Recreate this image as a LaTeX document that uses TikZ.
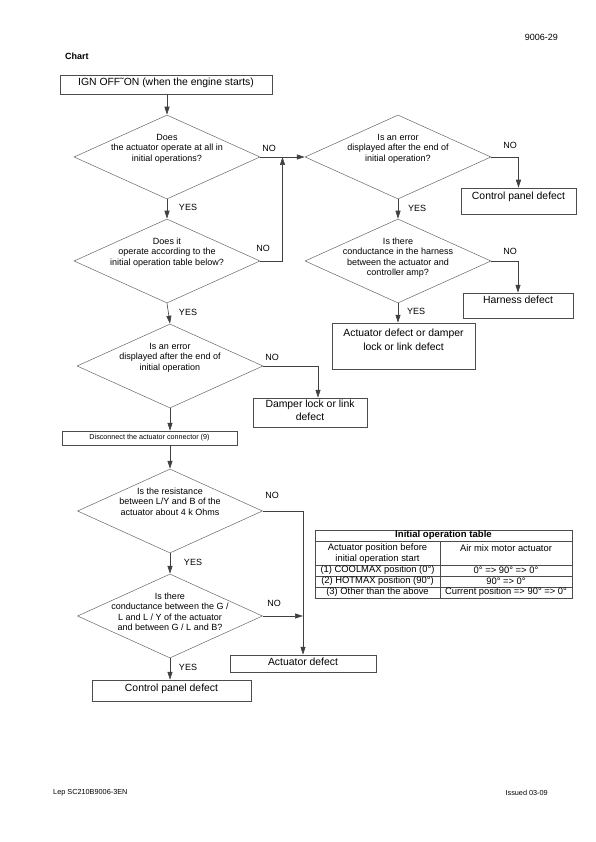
\documentclass[tikz,border=0pt]{standalone}
\usepackage{fontspec}
\setmainfont{Liberation Sans}
\usetikzlibrary{shapes.geometric,arrows.meta,positioning,calc}

\tikzset{
  dec/.style={diamond, draw=black!60, line width=0.5pt, minimum width=186pt, minimum height=84pt, inner sep=0pt},
  qtext/.style={anchor=north, align=center, inner sep=0pt, font=\fontsize{9}{10.5}\selectfont},
  box/.style={draw=black!70, line width=0.5pt, align=center, inner sep=0pt, text height=7.4pt, font=\fontsize{10.4}{13.5}\selectfont},
  lbl/.style={inner sep=0pt, font=\fontsize{9}{11}\selectfont},
  ttext/.style={inner sep=0pt, align=center, font=\fontsize{9.4}{11}\selectfont},
  arr/.style={draw=black!75, line width=0.6pt, -{Triangle[length=8pt,width=5pt]}},
}

\begin{document}
\begin{tikzpicture}[x=1pt, y=-1pt]
    \useasboundingbox (0,0) rectangle (595,842);

    % header and footer
    \node[lbl, anchor=east] (pgno) at (558,37) {9006-29};
    \node[lbl, anchor=west, font=\bfseries\fontsize{9}{11}\selectfont] (chart) at (65,56) {Chart};
    \node[lbl, anchor=west, font=\fontsize{7.3}{9}\selectfont] (docid) at (53,793) {Lep SC210B9006-3EN};
    \node[lbl, anchor=east, font=\fontsize{7.3}{9}\selectfont] (issue) at (548,793) {Issued 03-09};

    % start
    \node[box, minimum width=212pt, minimum height=19pt, text depth=5.1pt] (start) at (166,84.5) {IGN OFF˜ON (when the engine starts)};

    % left column: decisions
    \node[dec] (d1) at (167,157) {};
    \node[qtext] (q1) at ([yshift=-19pt]d1.north) {Does\\the actuator operate at all in\\initial operations?};
    \node[dec] (d2) at (167,261) {};
    \node[qtext] (q2) at ([yshift=-19pt]d2.north) {Does it\\operate according to the\\initial operation table below?};
    \node[dec] (d5) at (170,366) {};
    \node[qtext] (q5) at ([yshift=-19pt]d5.north) {Is an error\\displayed after the end of\\initial operation};

    % right column: decisions
    \node[dec] (d3) at (398,157) {};
    \node[qtext] (q3) at ([yshift=-19pt]d3.north) {Is an error\\displayed after the end of\\initial operation?};
    \node[dec] (d4) at (398,261) {};
    \node[qtext] (q4) at ([yshift=-19pt]d4.north) {Is there\\conductance in the harness\\between the actuator and\\controller amp?};

    % results
    \node[box, minimum width=115pt, minimum height=26pt, text depth=10pt] (cp1) at (518.5,201) {Control panel defect};
    \node[box, minimum width=110pt, minimum height=25pt, text depth=11pt] (harn) at (518,305.5) {Harness defect};
    \node[box, minimum width=143pt, minimum height=46pt, text height=20.9pt, text depth=12.6pt] (actdmp) at (403.5,346) {Actuator defect or damper\\lock or link defect};
    \node[box, minimum width=114pt, minimum height=29pt, text height=20.4pt, text depth=3.6pt, font=\fontsize{10.4}{13}\selectfont] (dmp) at (310,412.5) {Damper lock or link\\defect};
    \node[box, minimum width=175pt, minimum height=14pt, text height=5.2pt, text depth=1.6pt, font=\fontsize{7.2}{9}\selectfont] (disc) at (149.5,438) {Disconnect the actuator connector (9)};

    % after disconnecting
    \node[dec, minimum width=185pt] (d6) at (170,511) {};
    \node[qtext] (q6) at ([yshift=-19pt]d6.north) {Is the resistance\\between L/Y and B of the\\actuator about 4 k Ohms};
    \node[dec, minimum width=185pt] (d7) at (170,616) {};
    \node[qtext] (q7) at ([yshift=-19pt]d7.north) {Is there\\conductance between the G /\\L and L / Y of the actuator\\and between G / L and B?};
    \node[box, minimum width=146pt, minimum height=17pt, text depth=3.1pt] (actdef) at (303,663.5) {Actuator defect};
    \node[box, minimum width=159pt, minimum height=21pt, text depth=5.1pt] (cp2) at (171.5,690.5) {Control panel defect};

    % connectors
    \coordinate (jn) at ($(d1.east)!0.5!(d3.west)$);
    \draw[arr] (start.south -| d1.north) -- (d1.north);
    \draw[arr] (d1.south) -- (d2.north);
    \draw[arr] (d1.east) -- (d3.west);
    \draw[arr] (d2.east) -| (jn);
    \draw[arr] (d3.east) -| (cp1.north);
    \draw[arr] (d3.south) -- (d4.north);
    \draw[arr] (d4.east) -| (harn.north);
    \draw[arr] (d4.south) -- (d4.south |- actdmp.north);
    \draw[arr] (d2.south) -- (d5.north);
    \draw[arr] (d5.east) -| ([xshift=8pt]dmp.north);
    \draw[arr] (d5.south) -- (d5.south |- disc.north);
    \draw[arr] (d6.north |- disc.south) -- (d6.north);
    \draw[arr] (d6.east) -| (actdef.north);
    \draw[arr] (d6.south) -- (d7.north);
    \draw[arr] (d7.east) -- (d7.east -| actdef.north);
    \draw[arr] (d7.south) -- (d7.south |- cp2.north);

    % YES / NO
    \node[lbl] (no1) at (269,148) {NO};
    \node[lbl] (no2) at (263,248) {NO};
    \node[lbl] (no3) at (510,145) {NO};
    \node[lbl] (no4) at (510,251) {NO};
    \node[lbl] (no5) at (272,357) {NO};
    \node[lbl] (no6) at (272,495) {NO};
    \node[lbl] (no7) at (274,603) {NO};
    \node[lbl] (yes1) at (188,207) {YES};
    \node[lbl] (yes2) at (188,312) {YES};
    \node[lbl] (yes3) at (417,208) {YES};
    \node[lbl] (yes4) at (416,311) {YES};
    \node[lbl] (yes6) at (193,562) {YES};
    \node[lbl] (yes7) at (188,667) {YES};

    % Initial operation table
    \draw[black!70, line width=0.5pt] (315,530) rectangle (572,598);
    \foreach \y in {541,565,576,587}
        \draw[black!70, line width=0.5pt] (315,\y) -- (572,\y);
    \draw[black!70, line width=0.5pt] (440,541) -- (440,598);
    \node[ttext, font=\bfseries\fontsize{9.6}{11}\selectfont] (thead) at (443.5,535.5) {Initial operation table};
    \node[ttext] (th1) at (377.5,553.5) {Actuator position before\\initial operation start};
    \node[ttext] (th2) at (506,548) {Air mix motor actuator};
    \node[ttext] (r1a) at (377.5,570.5) {(1) COOLMAX position (0°)};
    \node[ttext] (r1b) at (506,570.5) {0° => 90° => 0°};
    \node[ttext] (r2a) at (377.5,581.5) {(2) HOTMAX position (90°)};
    \node[ttext] (r2b) at (506,581.5) {90° => 0°};
    \node[ttext] (r3a) at (377.5,592.5) {(3) Other than the above};
    \node[ttext] (r3b) at (506,592.5) {Current position => 90° => 0°};
\end{tikzpicture}
\end{document}
